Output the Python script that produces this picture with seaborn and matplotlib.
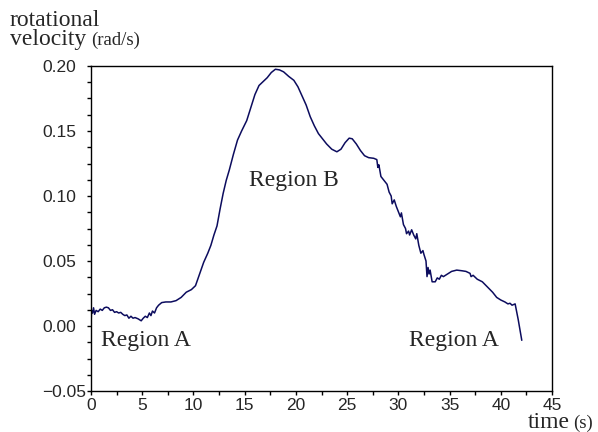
import numpy as np
import pandas as pd
import matplotlib
matplotlib.use("Agg")
import matplotlib.pyplot as plt
import seaborn as sns
from matplotlib.ticker import MultipleLocator, FuncFormatter

# ---- data ----
time_s = [0.0, 0.05, 0.15, 0.25, 0.35, 0.5, 0.7, 0.9, 1.1, 1.3, 1.5, 1.7, 1.9, 2.1, 2.3, 2.5,
          2.7, 2.9, 3.1, 3.3, 3.5, 3.7, 3.9, 4.1, 4.3, 4.6, 4.9, 5.1, 5.3, 5.5, 5.7, 5.85,
          6.0, 6.2, 6.4, 6.6, 6.9, 7.3, 7.8, 8.3, 8.8, 9.3, 9.8, 10.2, 10.6, 11.0, 11.4,
          11.7, 12.0, 12.3, 12.6, 12.9, 13.2, 13.5, 13.9, 14.3, 14.7, 15.2, 15.6, 16.0,
          16.4, 16.8, 17.2, 17.6, 18.0, 18.4, 18.8, 19.3, 19.8, 20.2, 20.6, 21.0, 21.4,
          21.8, 22.2, 22.6, 23.0, 23.5, 24.0, 24.4, 24.8, 25.2, 25.5, 25.9, 26.3, 26.7,
          27.1, 27.6, 27.9, 28.0, 28.1, 28.3, 28.6, 28.9, 29.1, 29.3, 29.4, 29.6, 29.8,
          30.0, 30.2, 30.3, 30.5, 30.7, 30.8, 31.0, 31.1, 31.3, 31.5, 31.7, 31.8, 32.0,
          32.2, 32.4, 32.5, 32.7, 32.8, 32.9, 33.0, 33.1, 33.3, 33.6, 33.8, 34.0, 34.2,
          34.4, 34.8, 35.2, 35.7, 36.2, 36.6, 37.0, 37.1, 37.3, 37.7, 38.2, 38.7, 39.2,
          39.6, 40.0, 40.4, 40.7, 40.9, 41.1, 41.4, 41.5, 41.7, 41.9, 42.05]
velocity = [0.0, 0.012, 0.010, 0.014, 0.009, 0.012, 0.011, 0.013, 0.012, 0.014, 0.0145, 0.014,
            0.012, 0.0125, 0.0105, 0.011, 0.010, 0.0105, 0.009, 0.008, 0.0085, 0.006, 0.0075,
            0.006, 0.0065, 0.0055, 0.004, 0.006, 0.0075, 0.0065, 0.010, 0.008, 0.0115, 0.010,
            0.014, 0.016, 0.018, 0.0185, 0.0185, 0.0195, 0.022, 0.026, 0.028, 0.031, 0.040,
            0.049, 0.056, 0.062, 0.070, 0.077, 0.090, 0.102, 0.112, 0.120, 0.132, 0.143,
            0.150, 0.158, 0.168, 0.178, 0.185, 0.188, 0.191, 0.195, 0.1975, 0.197, 0.1955,
            0.192, 0.189, 0.184, 0.177, 0.170, 0.161, 0.154, 0.148, 0.144, 0.140, 0.136,
            0.134, 0.136, 0.141, 0.1445, 0.144, 0.140, 0.135, 0.131, 0.1295, 0.129, 0.128,
            0.122, 0.124, 0.115, 0.112, 0.109, 0.103, 0.100, 0.094, 0.097, 0.092, 0.088,
            0.084, 0.087, 0.078, 0.075, 0.071, 0.073, 0.070, 0.074, 0.070, 0.067, 0.071,
            0.062, 0.056, 0.058, 0.055, 0.050, 0.038, 0.045, 0.040, 0.043, 0.034, 0.034,
            0.037, 0.036, 0.039, 0.038, 0.040, 0.042, 0.043, 0.0425, 0.042, 0.0405, 0.038,
            0.039, 0.036, 0.034, 0.030, 0.026, 0.022, 0.020, 0.0185, 0.017, 0.0175, 0.016,
            0.017, 0.013, 0.005, -0.004, -0.011]

x_ticks = [0, 5, 10, 15, 20, 25, 30, 35, 40, 45]
y_ticks = [-0.05, 0.00, 0.05, 0.10, 0.15, 0.20]

region_labels = ["Region A", "Region B", "Region A"]
region_t = [1.0, 15.4, 31.0]
region_v = [-0.0115, 0.112, -0.0115]

df = pd.DataFrame({"time": time_s, "velocity": velocity})

sns.set_style("ticks")
plt.rcParams["font.family"] = ["Liberation Sans", "DejaVu Sans"]

fig = plt.figure(figsize=(5.98, 4.32), dpi=100)
ax = fig.add_axes([91 / 598, 1 - 391 / 432, (552 - 91) / 598, (391 - 66) / 432])

sns.lineplot(data=df, x="time", y="velocity", ax=ax, color="#0c0c5e", linewidth=1.1,
             sort=False, estimator=None)

ax.set_xlim(0, 45)
ax.set_ylim(-0.05, 0.20)
ax.set_xticks(x_ticks)
ax.set_yticks(y_ticks)
ax.xaxis.set_minor_locator(MultipleLocator(2.5))
ax.yaxis.set_minor_locator(MultipleLocator(0.0125))
ax.yaxis.set_major_formatter(FuncFormatter(lambda v, p: f"{v:.2f}".replace("-", "\u2212")))
ax.set_xlabel("")
ax.set_ylabel("")

for sp in ax.spines.values():
    sp.set_visible(True)
    sp.set_color("black")
    sp.set_linewidth(1.0)

ax.tick_params(axis="both", which="both", direction="out", length=3, width=1, color="black")
ax.tick_params(axis="x", which="major", pad=2, labelsize=12.5)
ax.tick_params(axis="y", which="major", pad=32.3, labelsize=12.5)
for lab in ax.get_yticklabels():
    lab.set_horizontalalignment("left")

for lbl, t, v in zip(region_labels, region_t, region_v):
    ax.text(t, v, lbl, fontsize=17, family="Liberation Serif", va="center", ha="left")

fig.text(10 / 598, 1 - 26 / 432, "rotational", fontsize=17, family="Liberation Serif",
         ha="left", va="baseline")
fig.text(10 / 598, 1 - 45 / 432, "velocity", fontsize=17, family="Liberation Serif",
         ha="left", va="baseline")
fig.text(91 / 598, 1 - 45 / 432, "(rad/s)", fontsize=13.5, family="Liberation Serif",
         ha="left", va="baseline")

fig.text(528 / 598, 1 - 428 / 432, "time", fontsize=17, family="Liberation Serif",
         ha="left", va="baseline")
fig.text(573 / 598, 1 - 428 / 432, "(s)", fontsize=13.5, family="Liberation Serif",
         ha="left", va="baseline")

fig.savefig("out.png", dpi=100)
